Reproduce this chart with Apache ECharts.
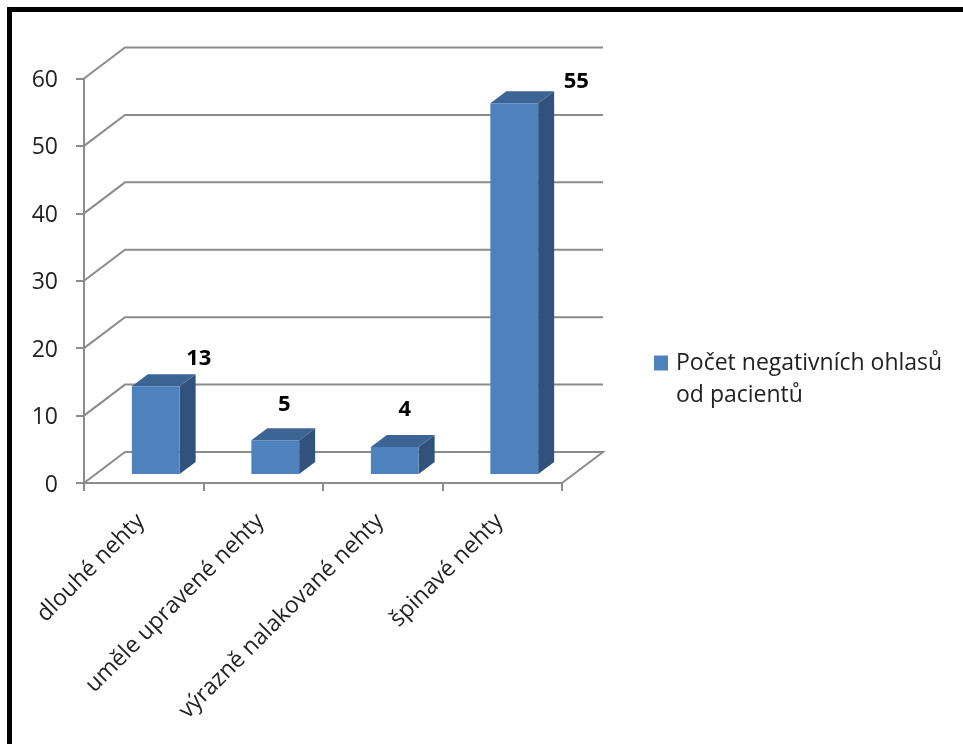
<!DOCTYPE html>
<html>
<head>
<meta charset="utf-8">
<style>html,body{margin:0;padding:0;background:#fff}#chart{width:963px;height:744px}</style>
<script src="https://cdn.jsdelivr.net/npm/echarts@6/dist/echarts.min.js"></script>
</head>
<body>
<div id="chart"></div>
<script>
// Chart data
const categories = ['dlouhé nehty', 'uměle upravené nehty', 'výrazně nalakované nehty', 'špinavé nehty'];
const counts = [13, 5, 4, 55];
const yTicks = [0, 10, 20, 30, 40, 50, 60];
const seriesName = 'Počet negativních ohlasů\nod pacientů';

// Pseudo-3D geometry, in pixels
const WALL_DX = 41, WALL_DY = 31;      // depth of the floor and back wall
const BAR_DX = 12, BAR_DY = 9;         // bar offset from the front edge
const SIDE_DX = 16, SIDE_DY = 12;      // depth of each bar
const BAR_WIDTH_RATIO = 0.4;
// Hand-placed data labels, relative to the top-front centre of each bar
const labelNudge = [[43, -28], [9, -36], [10, -37], [62, -21]];

const GREY = '#8c8c8c', FONT = '"Open Sans", "Noto Sans", sans-serif', INK = '#222';

function renderWall(params, api) {
  const cs = params.coordSys;
  const v = api.value(0);
  const y = api.coord([0, v])[1];
  const left = cs.x, right = cs.x + cs.width;
  const pts = [[left, y], [left + WALL_DX, y - WALL_DY], [right + WALL_DX, y - WALL_DY]];
  if (v === 0) pts.push([right, y]);
  return {
    type: 'polyline',
    shape: { points: pts },
    style: { stroke: GREY, lineWidth: 2, fill: null }
  };
}

function renderBar(params, api) {
  const i = api.value(0), v = api.value(1);
  const top = api.coord([i, v]), base = api.coord([i, 0]);
  const w = api.size([1, 0])[0] * BAR_WIDTH_RATIO;
  const x0 = top[0] - w / 2 + BAR_DX, x1 = x0 + w;
  const yT = top[1] - BAR_DY, yB = base[1] - BAR_DY;
  const nudge = labelNudge[i];
  return {
    type: 'group',
    children: [
      { type: 'polygon', shape: { points: [[x1, yT], [x1 + SIDE_DX, yT - SIDE_DY], [x1 + SIDE_DX, yB - SIDE_DY], [x1, yB]] }, style: { fill: '#30527c' } },
      { type: 'polygon', shape: { points: [[x0, yT], [x0 + SIDE_DX, yT - SIDE_DY], [x1 + SIDE_DX, yT - SIDE_DY], [x1, yT]] }, style: { fill: '#3c6494' } },
      { type: 'polygon', shape: { points: [[x0, yT], [x1, yT], [x1, yB], [x0, yB]] }, style: { fill: '#4f81bd' } },
      { type: 'text', x: (x0 + x1) / 2 + nudge[0], y: yT + nudge[1], style: { text: String(v), fill: '#000', font: 'bold 22px ' + FONT, align: 'center', verticalAlign: 'middle' } }
    ]
  };
}

const chart = echarts.init(document.getElementById('chart'), null, { renderer: 'canvas' });
chart.setOption({
  animation: false,
  backgroundColor: '#fff',
  grid: { left: 84, top: 78.5, width: 478, height: 404.5 },
  xAxis: {
    type: 'category',
    data: categories,
    axisLine: { lineStyle: { color: GREY, width: 2 } },
    axisTick: { show: true, alignWithLabel: false, length: 8, lineStyle: { color: GREY, width: 2 } },
    axisLabel: { interval: 0, rotate: 45, margin: 32, padding: [0, 4, 0, 0], color: INK, fontFamily: FONT, fontSize: 23 }
  },
  yAxis: {
    type: 'value',
    min: 0,
    max: 60,
    interval: 10,
    axisLine: { show: true, lineStyle: { color: GREY, width: 2 } },
    axisTick: { show: true, length: 8, lineStyle: { color: GREY, width: 2 } },
    axisLabel: {
      margin: 26,
      formatter: '{t|{value}}',
      rich: { t: { padding: [4, 0, 0, 0], color: INK, fontFamily: FONT, fontSize: 23 } }
    },
    splitLine: { show: false }
  },
  legend: {
    data: [seriesName],
    left: 654,
    top: 315,
    orient: 'vertical',
    icon: 'rect',
    itemWidth: 14,
    itemHeight: 15,
    itemGap: 0,
    padding: 0,
    // the leading blank line keeps the swatch level with the first text line
    formatter: name => '\n' + name,
    textStyle: { color: INK, fontFamily: FONT, fontSize: 23, lineHeight: 32, padding: [0, 0, 0, 3] }
  },
  series: [
    {
      type: 'custom',
      name: 'wall',
      coordinateSystem: 'cartesian2d',
      clip: false,
      silent: true,
      z: 1,
      encode: { y: 0 },
      data: yTicks.map(t => [t]),
      renderItem: renderWall
    },
    {
      type: 'custom',
      name: seriesName,
      coordinateSystem: 'cartesian2d',
      clip: false,
      z: 3,
      itemStyle: { color: '#4f81bd' },
      encode: { x: 0, y: 1 },
      data: counts.map((c, i) => [i, c]),
      renderItem: renderBar
    }
  ],
  graphic: [
    { type: 'rect', z: 10, silent: true, shape: { x: 9.5, y: 9.5, width: 1000, height: 800 }, style: { fill: null, stroke: '#000', lineWidth: 5 } }
  ]
});
</script>
</body>
</html>
